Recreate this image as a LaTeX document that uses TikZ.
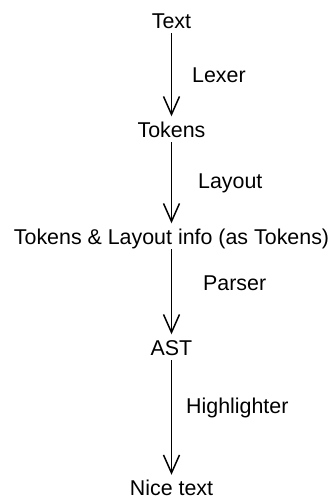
\documentclass[tikz,border=0pt]{standalone}
\usepackage{fontspec}
\setmainfont{Liberation Sans}
\usetikzlibrary{arrows.meta}

\tikzset{
  stage/.style={anchor=base, inner sep=5pt, text height=15.5pt, text depth=0pt},
  pass/.style={anchor=base west, inner sep=0pt},
  flow/.style={line width=1.5pt, -{Straight Barb[length=18pt,width=16pt]}}
}

\begin{document}
\begin{tikzpicture}[x=1pt,y=-1pt,font=\fontsize{21.4}{25}\selectfont]
        \useasboundingbox (0,0) rectangle (333,499);
        % stages of the pipeline
        \node[stage] (text) at (171.5,28) {Text};
        \node[stage] (tokens) at (171.5,137) {Tokens};
        \node[stage] (layinfo) at (171.5,244) {Tokens \& Layout info (as Tokens)};
        \node[stage] (ast) at (171.5,355) {AST};
        \node[stage] (nice) at (171.5,495.5) {Nice text};
        % passes between them
        \draw[flow] (text) -- (tokens);
        \draw[flow] (tokens) -- (layinfo);
        \draw[flow] (layinfo) -- (ast);
        \draw[flow] (ast) -- (nice);
        \node[pass] (lexer) at (192,82) {Lexer};
        \node[pass] (layout) at (198,188) {Layout};
        \node[pass] (parser) at (203,290) {Parser};
        \node[pass] (hilite) at (186,413) {Highlighter};
\end{tikzpicture}
\end{document}
